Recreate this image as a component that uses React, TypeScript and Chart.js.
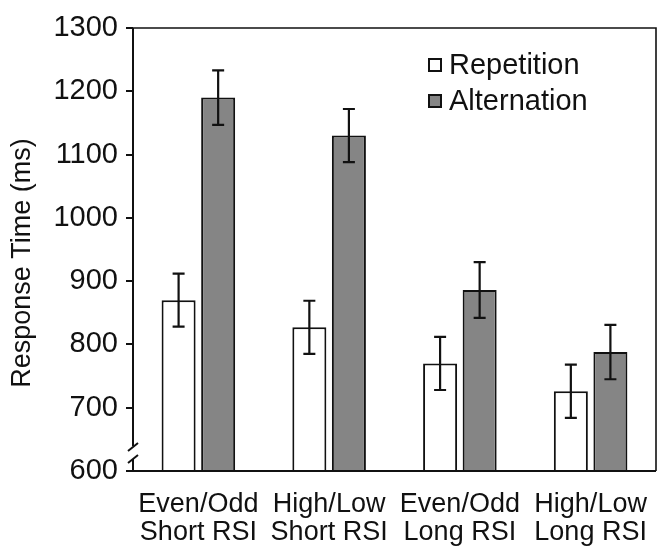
import React, { useEffect, useRef } from "react";
import { Chart, registerables } from "chart.js";

Chart.register(...registerables);

const categories: string[][] = [
  ["Even/Odd", "Short RSI"],
  ["High/Low", "Short RSI"],
  ["Even/Odd", "Long RSI"],
  ["High/Low", "Long RSI"],
];
const repetition = [870, 827, 770, 726];
const repetitionErr = [42, 42, 42, 42];
const alternation = [1190, 1130, 886, 788];
const alternationErr = [43, 42, 44, 43];
const yTicks = [600, 700, 800, 900, 1000, 1100, 1200, 1300];
const seriesNames = ["Repetition", "Alternation"];

const FONT = "'Liberation Sans', Arial, sans-serif";
const INK = "#111111";
const GRAY = "#858585";

const errorBarsPlugin = {
  id: "errorBars",
  afterDatasetsDraw(chart: any) {
    const ctx = chart.ctx;
    const y = chart.scales.y;
    const errs = [repetitionErr, alternationErr];
    ctx.save();
    ctx.strokeStyle = INK;
    ctx.lineWidth = 2.2;
    chart.data.datasets.forEach((ds: any, di: number) => {
      const meta = chart.getDatasetMeta(di);
      meta.data.forEach((bar: any, i: number) => {
        const v = ds.data[i];
        const e = errs[di][i];
        const yt = y.getPixelForValue(v + e);
        const yb = y.getPixelForValue(v - e);
        const x = bar.x;
        ctx.beginPath();
        ctx.moveTo(x, yt);
        ctx.lineTo(x, yb);
        ctx.moveTo(x - 6, yt);
        ctx.lineTo(x + 6, yt);
        ctx.moveTo(x - 6, yb);
        ctx.lineTo(x + 6, yb);
        ctx.stroke();
      });
    });
    ctx.restore();
  },
};

const framePlugin = {
  id: "frame",
  afterDraw(chart: any) {
    const ctx = chart.ctx;
    const { left, right, top, bottom } = chart.chartArea;
    ctx.save();
    ctx.strokeStyle = INK;
    ctx.lineWidth = 2;
    ctx.beginPath();
    // left axis with break
    ctx.moveTo(left, top);
    ctx.lineTo(left, bottom - 25);
    ctx.moveTo(left, bottom - 12);
    ctx.lineTo(left, bottom);
    // bottom
    ctx.moveTo(left - 1, bottom);
    ctx.lineTo(right, bottom);
    ctx.stroke();
    // break slashes
    ctx.beginPath();
    ctx.moveTo(left - 5, bottom - 20);
    ctx.lineTo(left + 5, bottom - 28);
    ctx.moveTo(left - 5, bottom - 8);
    ctx.lineTo(left + 5, bottom - 16);
    ctx.stroke();
    // top and right frame
    ctx.lineWidth = 1.6;
    ctx.beginPath();
    ctx.moveTo(left, top);
    ctx.lineTo(right, top);
    ctx.lineTo(right, bottom);
    ctx.stroke();

    // y title
    ctx.fillStyle = INK;
    ctx.font = `27px ${FONT}`;
    ctx.textAlign = "center";
    ctx.textBaseline = "middle";
    ctx.translate(23, 263);
    ctx.rotate(-Math.PI / 2);
    ctx.fillText("Response Time (ms)", 0, 0);
    ctx.restore();

    // legend
    ctx.save();
    const fills = ["#ffffff", GRAY];
    const ys = [65, 101];
    ctx.font = `29px ${FONT}`;
    ctx.textAlign = "left";
    ctx.textBaseline = "middle";
    seriesNames.forEach((name, i) => {
      ctx.fillStyle = fills[i];
      ctx.fillRect(429, ys[i] - 6, 12, 12);
      ctx.strokeStyle = INK;
      ctx.lineWidth = 2;
      ctx.strokeRect(429, ys[i] - 6, 12, 12);
      ctx.fillStyle = INK;
      ctx.fillText(name, 449, ys[i] + 1);
    });
    ctx.restore();
  },
};

export default function App() {
  const ref = useRef<HTMLCanvasElement | null>(null);
  useEffect(() => {
    if (!ref.current) return;
    const chart = new Chart(ref.current, {
      type: "bar",
      data: {
        labels: categories as any,
        datasets: [
          {
            label: seriesNames[0],
            data: repetition,
            backgroundColor: "#ffffff",
            borderColor: INK,
            borderWidth: 2,
            borderSkipped: false,
          },
          {
            label: seriesNames[1],
            data: alternation,
            backgroundColor: GRAY,
            borderColor: INK,
            borderWidth: 2,
            borderSkipped: false,
          },
        ],
      },
      options: {
        responsive: false,
        animation: false,
        devicePixelRatio: 1,
        layout: { padding: { top: 28, right: 11, left: 0, bottom: 0 } },
        datasets: { bar: { categoryPercentage: 0.605, barPercentage: 0.86 } },
        plugins: { legend: { display: false }, tooltip: { enabled: false } },
        scales: {
          x: {
            grid: { display: false },
            border: { display: false },
            ticks: {
              color: INK,
              font: { family: FONT, size: 27, lineHeight: 1.05 },
              padding: 11,
              maxRotation: 0,
              autoSkip: false,
            },
            afterFit: (s: any) => {
              s.height = 76;
            },
          },
          y: {
            min: 600,
            max: 1300,
            afterBuildTicks: (s: any) => {
              s.ticks = yTicks.map((v) => ({ value: v }));
            },
            grid: {
              drawOnChartArea: false,
              drawTicks: true,
              tickLength: 7,
              color: INK,
              lineWidth: 2,
            },
            border: { display: false },
            ticks: {
              color: INK,
              font: { family: FONT, size: 29 },
              padding: 8,
              callback: (v: any) => String(v),
            },
            afterFit: (s: any) => {
              s.width = 133;
            },
          },
        },
      },
      plugins: [errorBarsPlugin, framePlugin],
    });
    return () => chart.destroy();
  }, []);
  return (
    <div style={{ position: "fixed", left: 0, top: 0, width: 667, height: 547, background: "#fff" }}>
      <canvas ref={ref} width={667} height={547} style={{ width: 667, height: 547 }} />
    </div>
  );
}
